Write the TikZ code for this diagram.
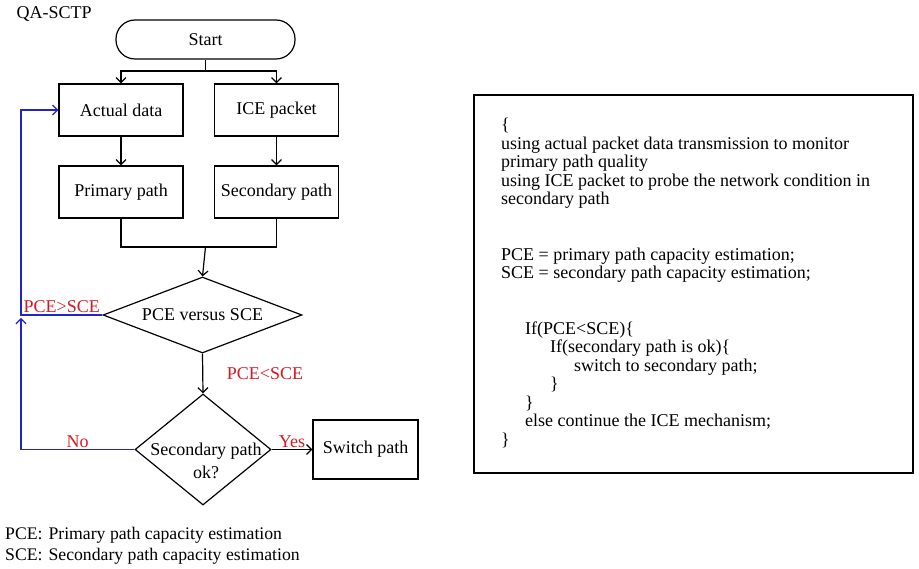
\documentclass[tikz,border=0pt]{standalone}
\usepackage{fontspec}
\setmainfont{Liberation Serif}
\usetikzlibrary{shapes.geometric,arrows.meta}
\definecolor{condred}{RGB}{215,25,35}
\definecolor{loopblue}{RGB}{35,35,205}
\tikzset{
  procbox/.style={draw, line width=1.2pt, minimum width=124pt, minimum height=52pt},
  terminal/.style={draw, line width=1.2pt, rounded corners=19pt, minimum width=179pt, minimum height=39pt},
  decision/.style={draw, line width=1.2pt, diamond, aspect=2.6, inner sep=0pt},
  flowarrow/.style={line width=1.2pt, -{Straight Barb[length=5pt,width=10pt]}},
  feedback/.style={flowarrow, color=loopblue},
  redlabel/.style={text=condred, inner sep=1.5pt},
}

\begin{document}
\begin{tikzpicture}[x=1pt, y=-1pt, font=\fontsize{18}{18.5}\selectfont]
			%%%%% START %%%%%
			\useasboundingbox (0,0) rectangle (919,569);
			\fill[white] (0,0) rectangle (919,569);
			
			\node[anchor=west] (title) at (13,14) {QA-SCTP};
			\node[terminal] (start) at (205.5,39.5) {Start};
			
			\node[procbox] (actual) at (121,110) {Actual data};
			\node[procbox] (ice) at (276.5,110) {ICE packet};
			\node[procbox] (primary) at (121,192) {Primary path};
			\node[procbox] (secondary) at (276.5,192) {Secondary path};
			
			\node[decision, minimum width=199pt, minimum height=76pt] (cmp) at (202.5,315) {PCE versus SCE};
			\node[decision, minimum width=136pt, minimum height=111pt] (check) at (203,449.5) {};
			\node[align=center, font=\fontsize{18}{23}\selectfont] (checktxt) at (206,461) {Secondary path\\ok?};
			\node[procbox, minimum width=105pt, minimum height=59pt] (switch) at (365.5,449.5) {Switch path};
			
			\coordinate (split) at (205.5,71);
			\coordinate (join) at (205.5,247);
			\coordinate (nomerge) at (21,318);
			
			\draw[line width=1.2pt] (start.south) -- (split);
			\draw[flowarrow] (split) -| (actual.north);
			\draw[flowarrow] (split) -| (ice.north);
			\draw[flowarrow] (actual) -- (primary);
			\draw[flowarrow] (ice) -- (secondary);
			\draw[line width=1.2pt] (primary.south) |- (join) -| (secondary.south);
			\draw[flowarrow] (join) -- (cmp.north);
			
			\draw[flowarrow] (cmp.south) -- node[redlabel, right=22pt] (ltlabel) {PCE<SCE} (check.north);
			\draw[flowarrow] (check.east) -- node[redlabel, above] (yes) {Yes} (switch.west);
			
			% feedback loop
			\draw[feedback] (check.west) -| node[redlabel, above, pos=0.25] (no) {No} (nomerge);
			\draw[feedback] (cmp.west) -- node[redlabel, above] (gtlabel) {PCE>SCE} (cmp.west -| nomerge) |- (actual.west);
			
			% pseudo code
			\node[draw, line width=1.2pt, minimum width=439pt, minimum height=378pt] (codebox) at (693.5,284) {};
			\node[anchor=north west, align=left, inner sep=0pt] (code) at (501,118) {%
				\{\\
				using actual packet data transmission to monitor\\
				primary path quality\\
				using ICE packet to probe the network condition in\\
				secondary path\\[37pt]
				PCE = primary path capacity estimation;\\
				SCE = secondary path capacity estimation;\\[37pt]
				\hspace*{24pt}If(PCE<SCE)\{\\
				\hspace*{49pt}If(secondary path is ok)\{\\
				\hspace*{73pt}switch to secondary path;\\
				\hspace*{49pt}\}\\
				\hspace*{24pt}\}\\
				\hspace*{24pt}else continue the ICE mechanism;\\
				\}};
			
			\node[anchor=west, inner sep=0pt] (legend) at (5,546) {\fontsize{17.7}{21}\selectfont
				\begin{tabular}{@{}l@{\hspace{6pt}}l@{}}
					PCE: & Primary path capacity estimation\\
					SCE: & Secondary path capacity estimation
				\end{tabular}};
			
			%%%%% END %%%%%
\end{tikzpicture}
\end{document}
